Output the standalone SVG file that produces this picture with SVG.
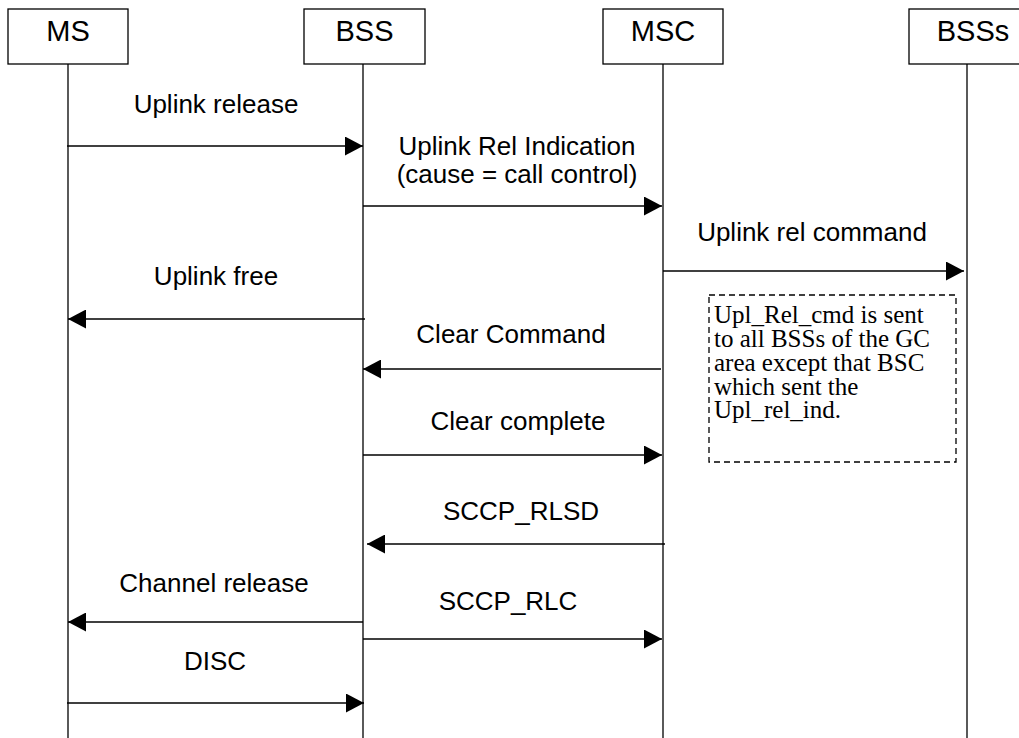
<svg xmlns="http://www.w3.org/2000/svg" width="1019" height="738" viewBox="0 0 1019 738">
<style>
.box{fill:#fff;stroke:#000;stroke-width:1.3}
.life{stroke:#000;stroke-width:1.3;fill:none}
.msg{stroke:#000;stroke-width:1.3;fill:none;marker-end:url(#ah)}
.hdr{font-family:"Liberation Sans",Arial,sans-serif;font-size:29px;text-anchor:middle;fill:#000}
.lbl{font-family:"Liberation Sans",Arial,sans-serif;font-size:26px;text-anchor:middle;fill:#000}
.note{font-family:"Liberation Serif","Times New Roman",serif;font-size:25px;fill:#000}
.dash{fill:none;stroke:#000;stroke-width:1.3;stroke-dasharray:6,4}
</style>
<defs>
<marker id="ah" markerWidth="18" markerHeight="19" refX="18" refY="9.5" orient="auto" markerUnits="userSpaceOnUse">
<path d="M0,0 L18,9.5 L0,19 z" fill="#000"/>
</marker>
</defs>
<rect width="1019" height="738" fill="#fff"/>
<g id="node-MS">
<line class="life" x1="68" y1="64" x2="68" y2="738"/>
<rect class="box" x="8" y="9" width="120" height="55"/>
<text class="hdr" x="68" y="41">MS</text>
</g>
<g id="node-BSS">
<line class="life" x1="363" y1="64" x2="363" y2="738"/>
<rect class="box" x="304" y="9" width="121" height="55"/>
<text class="hdr" x="364.5" y="41">BSS</text>
</g>
<g id="node-MSC">
<line class="life" x1="663" y1="64" x2="663" y2="738"/>
<rect class="box" x="603" y="9" width="120" height="55"/>
<text class="hdr" x="663" y="41">MSC</text>
</g>
<g id="node-BSSs">
<line class="life" x1="967" y1="64" x2="967" y2="738"/>
<rect class="box" x="909" y="9" width="121" height="55"/>
<text class="hdr" x="973" y="41">BSSs</text>
</g>
<g id="connectors">
<line class="msg" x1="67" y1="146" x2="363" y2="146"/>
<line class="msg" x1="363" y1="206" x2="662" y2="206"/>
<line class="msg" x1="663" y1="271" x2="964" y2="271"/>
<line class="msg" x1="365" y1="319" x2="68" y2="319"/>
<line class="msg" x1="661" y1="369" x2="363" y2="369"/>
<line class="msg" x1="363" y1="455" x2="662" y2="455"/>
<line class="msg" x1="665" y1="544" x2="367" y2="544"/>
<line class="msg" x1="363" y1="622" x2="68" y2="622"/>
<line class="msg" x1="363" y1="639" x2="662" y2="639"/>
<line class="msg" x1="67" y1="703" x2="364" y2="703"/>
</g>
<g id="labels">
<text class="lbl" x="216" y="113">Uplink release</text>
<text class="lbl" x="517" y="155">Uplink Rel Indication</text>
<text class="lbl" x="517" y="183">(cause = call control)</text>
<text class="lbl" x="812" y="241">Uplink rel command</text>
<text class="lbl" x="216" y="285">Uplink free</text>
<text class="lbl" x="511" y="343">Clear Command</text>
<text class="lbl" x="518" y="430">Clear complete</text>
<text class="lbl" x="521" y="520">SCCP_RLSD</text>
<text class="lbl" x="214" y="592">Channel release</text>
<text class="lbl" x="508" y="610">SCCP_RLC</text>
<text class="lbl" x="215" y="670">DISC</text>
</g>
<g id="node-note">
<rect class="dash" x="709" y="295" width="247" height="167"/>
<text class="note" x="714" y="323">Upl_Rel_cmd is sent</text>
<text class="note" x="714" y="347">to all BSSs of the GC</text>
<text class="note" x="714" y="371">area except that BSC</text>
<text class="note" x="714" y="395">which sent the</text>
<text class="note" x="714" y="418">Upl_rel_ind.</text>
</g>
</svg>
